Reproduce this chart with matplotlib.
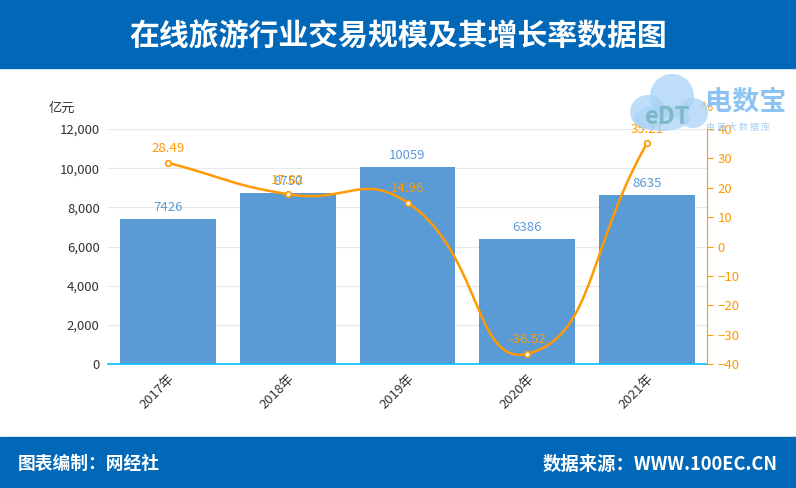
import numpy as np
import matplotlib
matplotlib.use("Agg")
import matplotlib.pyplot as plt
from matplotlib.patches import Ellipse, Rectangle

plt.rcParams["font.family"] = ["Noto Sans CJK SC", "DejaVu Sans"]

# data
years = ["2017年", "2018年", "2019年", "2020年", "2021年"]
scale = [7426, 8750, 10059, 6386, 8635]          # 亿元
growth = [28.49, 17.82, 14.96, -36.52, 35.21]     # %

BLUE = "#5B9BD5"
ORANGE = "#FF9A00"
BAND = "#0167B7"

AX_W, AX_H = 599, 235  # axes size in pixels


def smooth_curve(x, y, ylim, n=40, smooth=0.5):
    # bezier smoothing done in pixel space, like echarts' smooth line
    sx = AX_W / (x[-1] - x[0] + 1)
    sy = AX_H / (ylim[1] - ylim[0])
    pts = np.column_stack([np.asarray(x, float) * sx, np.asarray(y, float) * sy])
    m = len(pts)
    cps = []
    for i in range(m):
        prev = pts[i - 1] if i > 0 else pts[i]
        nxt = pts[i + 1] if i < m - 1 else pts[i]
        v = (nxt - prev) * smooth
        d0 = np.hypot(*(pts[i] - prev))
        d1 = np.hypot(*(pts[i] - nxt))
        tot = d0 + d1
        if tot > 0:
            d0, d1 = d0 / tot, d1 / tot
        cps.append((pts[i] - v * d0, pts[i] + v * d1))
    out = []
    t = np.linspace(0, 1, n)[:, None]
    for i in range(m - 1):
        p0, p3 = pts[i], pts[i + 1]
        c1, c2 = cps[i][1], cps[i + 1][0]
        seg = ((1 - t) ** 3 * p0 + 3 * (1 - t) ** 2 * t * c1
               + 3 * (1 - t) * t ** 2 * c2 + t ** 3 * p3)
        out.append(seg)
    out = np.vstack(out)
    return out[:, 0] / sx, out[:, 1] / sy


fig = plt.figure(figsize=(7.96, 4.88), dpi=100)

# header and footer bands
fig.patches.append(Rectangle((0, 1 - 68 / 488), 1, 68 / 488, transform=fig.transFigure,
                             color=BAND, zorder=0))
fig.patches.append(Rectangle((0, 0), 1, 51 / 488, transform=fig.transFigure,
                             color=BAND, zorder=0))
fig.text(0.5, 1 - 36 / 488, "在线旅游行业交易规模及其增长率数据图", color="white",
         fontsize=21.5, fontweight="bold", ha="center", va="center")
fig.text(18 / 796, 24 / 488, "图表编制：网经社", color="white", fontsize=12.8,
         fontweight="bold", ha="left", va="center")
fig.text(778 / 796, 24 / 488, "数据来源：WWW.100EC.CN", color="white", fontsize=13.2,
         fontweight="bold", ha="right", va="center")

# faint watermark (cloud logo + name)
for cx, cy, w, h in [(648, 112, 36, 34), (672, 96, 44, 44), (693, 113, 30, 30),
                     (662, 118, 56, 26)]:
    fig.patches.append(Ellipse((cx / 796, 1 - cy / 488), w / 796, h / 488,
                               transform=fig.transFigure, color="#A9D2F6",
                               alpha=0.75, zorder=0, lw=0))
fig.text(668 / 796, 1 - 117 / 488, "eDT", color="#7FB8C8", fontsize=17,
         fontweight="bold", ha="center", va="center", zorder=1)
fig.text(705 / 796, 1 - 101 / 488, "电数宝", color="#8CC3F2", fontsize=19.5,
         fontweight="bold", ha="left", va="center")
fig.text(706 / 796, 1 - 127 / 488, "电 商 大 数 据 库", color="#A8D0F5", fontsize=6.5,
         ha="left", va="center")

ax = fig.add_axes([108 / 796, 1 - 364 / 488, AX_W / 796, AX_H / 488])
ax.patch.set_alpha(0)
x = np.arange(len(years))
ax.bar(x, scale, width=0.8, color=BLUE, zorder=2)
for xi, v in zip(x, scale):
    ax.text(xi, v + 250, str(v), color=BLUE, fontsize=9.5, ha="center", va="bottom", zorder=5)

ax.set_xlim(-0.5, len(years) - 0.5)
ax.set_ylim(0, 12000)
ax.set_yticks(np.arange(0, 12001, 2000))
ax.set_yticklabels([f"{v:,}" for v in range(0, 12001, 2000)], fontsize=9.5, color="#333333")
ax.grid(axis="y", color="#E8E8E8", linewidth=0.8, zorder=0)
ax.set_xticks(x)
ax.set_xticklabels(years, rotation=45, ha="right", rotation_mode="anchor",
                   fontsize=9.5, color="#333333")
ax.tick_params(axis="y", length=0, pad=6)
ax.tick_params(axis="x", length=0, pad=6)
for s in ["top", "right", "left"]:
    ax.spines[s].set_visible(False)
ax.spines["bottom"].set_color("#00BFFF")
ax.spines["bottom"].set_linewidth(1.2)
ax.spines["bottom"].set_zorder(4)
ax.text(-0.1, 1.09, "亿元", transform=ax.transAxes, fontsize=9.5, color="#333333",
        ha="left", va="center")

ax2 = ax.twinx()
ax2.set_ylim(-40, 40)
ax2.set_yticks(np.arange(-40, 41, 10))
ax2.tick_params(axis="y", colors=ORANGE, labelsize=9.5, length=4, direction="out")
for s in ["top", "left", "bottom"]:
    ax2.spines[s].set_visible(False)
ax2.spines["right"].set_color(ORANGE)
sx, sy = smooth_curve(x, growth, (-40, 40))
ax2.plot(sx, sy, color=ORANGE, linewidth=1.8, zorder=3)
ax2.plot(x, growth, "o", markersize=4, markerfacecolor="white",
         markeredgecolor=ORANGE, markeredgewidth=1.2, zorder=4)
for xi, g in zip(x, growth):
    ax2.text(xi, g + 2.5, f"{g:.2f}", color=ORANGE, fontsize=9.5, ha="center",
             va="bottom", zorder=5)
ax2.text(1.0, 1.09, "%", transform=ax2.transAxes, fontsize=9.5, color=ORANGE,
         ha="center", va="center")

fig.savefig("out.png", dpi=100)
